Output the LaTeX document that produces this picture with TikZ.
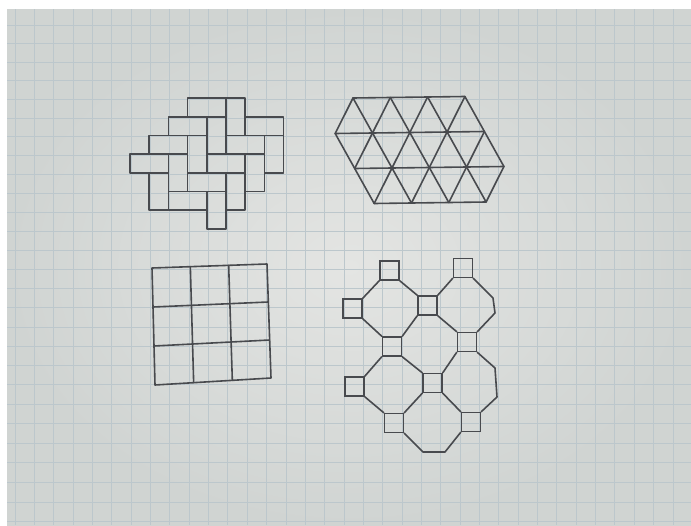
\documentclass[tikz,border=0pt]{standalone}
\usepackage{tikz}
\usetikzlibrary{calc}
\definecolor{paperlight}{RGB}{228,229,227}
\definecolor{paperdark}{RGB}{208,212,210}
\definecolor{gridcol}{RGB}{188,199,204}
\definecolor{inkcol}{RGB}{72,74,78}
\tikzset{
  paper/.style={inner color=paperlight,outer color=paperdark},
  grid rule/.style={draw=gridcol,line width=0.75pt},
  ink/.style={draw=inkcol,line width=1.6pt,line join=round,line cap=round},
  tile square/.style={rectangle,draw=inkcol,line width=1.6pt,minimum size=19pt,inner sep=0pt}
}

\begin{document}
\begin{tikzpicture}[x=1pt,y=-1pt]
  \useasboundingbox (0,0) rectangle (691,525);
  \fill[white] (0,0) rectangle (691,525);
  \shade[paper] (7,9) rectangle (691,525);
  \begin{scope}
    \clip (7,9) rectangle (691,525);
    \foreach \k in {0,...,35}
      \draw[grid rule] ({15+19.35*\k},9) -- ({15+19.35*\k},525);
    \foreach \k in {0,...,26}
      \draw[grid rule] (7,{25+18.5*\k+0.023*\k*\k}) -- (691,{25+18.5*\k+0.023*\k*\k});
  \end{scope}
  % herringbone
  \foreach \c/\r in {3/0,2/1,6/1,1/2,5/2,0/3,4/3,3/4,2/5}
    \draw[ink] ({130+19.2*\c},{98+18.7*\r}) rectangle ++(38.4,18.7);
  \foreach \c/\r in {5/0,4/1,3/2,7/2,2/3,6/3,1/4,5/4,4/5}
    \draw[ink] ({130+19.2*\c},{98+18.7*\r}) rectangle ++(19.2,37.4);
  % triangles
  \foreach \b in {0,...,3}
    \foreach \a in {0,...,4}
      \coordinate (t\a\b) at ({353+37.3*(\a-1)+19.5*\b},{98-0.5*(\a-1)+35*\b});
  \draw[ink] (t10) -- (t40) (t01) -- (t41) (t02) -- (t42) (t03) -- (t33);
  \draw[ink] (t01) -- (t03) (t10) -- (t13) (t20) -- (t23) (t30) -- (t33) (t40) -- (t42);
  \draw[ink] (t10) -- (t01) (t20) -- (t02) (t30) -- (t03) (t40) -- (t13) (t41) -- (t23) (t42) -- (t33);
  % squares
  \coordinate (q00) at (152,268);
  \coordinate (q30) at (267,264);
  \coordinate (q03) at (155,385);
  \coordinate (q33) at (271,378);
  \draw[ink] (q00) -- (q30) -- (q33) -- (q03) -- cycle;
  \foreach \i in {1,2} {
    \draw[ink] ($(q00)!\i/3!(q30)$) -- ($(q03)!\i/3!(q33)$);
    \draw[ink] ($(q00)!\i/3!(q03)$) -- ($(q30)!\i/3!(q33)$);
  }
  % octagons and squares
  \node[tile square] (s1) at (389.5,270.5) {};
  \node[tile square] (s2) at (463,268) {};
  \node[tile square] (s3) at (352.5,308.5) {};
  \node[tile square] (s4) at (427.5,305.5) {};
  \node[tile square] (s5) at (392,346.5) {};
  \node[tile square] (s6) at (467,342) {};
  \node[tile square] (s7) at (354.5,386.5) {};
  \node[tile square] (s8) at (432.5,383) {};
  \node[tile square] (s9) at (394,423) {};
  \node[tile square] (s10) at (471,422) {};
  \coordinate (o2a) at (493,298);
  \coordinate (o2b) at (495,313);
  \coordinate (o4a) at (495,368);
  \coordinate (o4b) at (497,397);
  \coordinate (o5a) at (423,452);
  \coordinate (o5b) at (445,452);
  \draw[ink] (s1.south west) -- (s3.north east);
  \draw[ink] (s1.south east) -- (s4.north west);
  \draw[ink] (s2.south west) -- (s4.north east);
  \draw[ink] (s2.south east) -- (o2a) -- (o2b) -- (s6.north east);
  \draw[ink] (s3.south east) -- (s5.north west);
  \draw[ink] (s4.south west) -- (s5.north east);
  \draw[ink] (s4.south east) -- (s6.north west);
  \draw[ink] (s5.south west) -- (s7.north east);
  \draw[ink] (s5.south east) -- (s8.north west);
  \draw[ink] (s6.south west) -- (s8.north east);
  \draw[ink] (s6.south east) -- (o4a) -- (o4b) -- (s10.north east);
  \draw[ink] (s7.south east) -- (s9.north west);
  \draw[ink] (s8.south west) -- (s9.north east);
  \draw[ink] (s8.south east) -- (s10.north west);
  \draw[ink] (s9.south east) -- (o5a) -- (o5b) -- (s10.south west);
\end{tikzpicture}
\end{document}
